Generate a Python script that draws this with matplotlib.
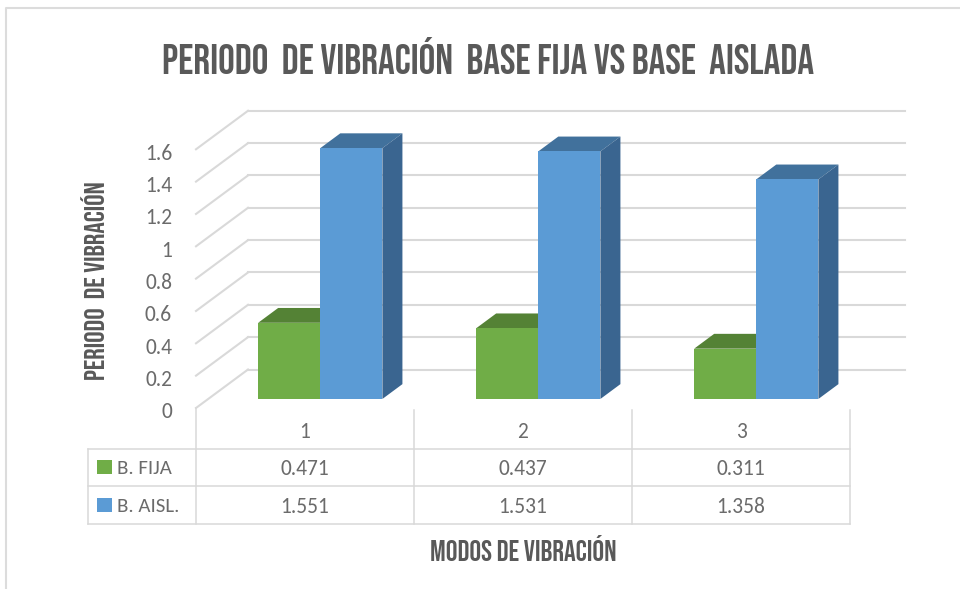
import numpy as np
import matplotlib
matplotlib.use("Agg")
import matplotlib.pyplot as plt
from matplotlib.patches import Polygon, Rectangle

modos = ["1", "2", "3"]
b_fija = [0.471, 0.437, 0.311]
b_aisl = [1.551, 1.531, 1.358]
y_ticks = [0, 0.2, 0.4, 0.6, 0.8, 1, 1.2, 1.4, 1.6]

W, H = 960, 589
FONT = ["Carlito", "Open Sans", "DejaVu Sans"]
NARROW = ["Bebas Neue", "League Gothic", "Liberation Sans", "DejaVu Sans"]
GRID = "#d9d9d9"
TXT = "#6b6b6b"
TITLE = "#595959"

# oblique 3d: depth shift of the whole box in data units
depth_x = 52 / 218.
depth_y = 38.5 / 161.7
d0, d1 = 0.235, 0.62
bar_w = 0.285
bar_off = 0.229


def shift(x, v, d):
    return (x + d * depth_x, v + d * depth_y)


def box(ax, x, v, front, top, side):
    base = d0 * depth_y
    ax.bar(x + d0 * depth_x, v, bar_w, bottom=base, color=front, align="edge", zorder=3)
    p = [shift(x, v, d0), shift(x + bar_w, v, d0), shift(x + bar_w, v, d1), shift(x, v, d1)]
    ax.add_patch(Polygon(p, closed=True, color=top, lw=0, zorder=2))
    s = [shift(x + bar_w, 0, d0), shift(x + bar_w, v, d0), shift(x + bar_w, v, d1), shift(x + bar_w, 0, d1)]
    ax.add_patch(Polygon(s, closed=True, color=side, lw=0, zorder=2))


fig = plt.figure(figsize=(W / 100., H / 100.), dpi=100, facecolor="white")

# main axes fills the figure, data scale: 218 px per category, 161.7 px per unit
ax = fig.add_axes([0, 0, 1, 1])
ax.set_xlim(-196 / 218., (W - 196) / 218.)
ax.set_ylim(-(H - 408) / 161.7, 408 / 161.7)
ax.axis("off")

n = len(modos)
for t in y_ticks:
    x0, y0 = shift(0, t, 0)
    x1, y1 = shift(0, t, 1)
    ax.plot([x0, x1], [y0, y1], color=GRID, lw=1.5, zorder=1)
    ax.plot([x1, n + depth_x + 0.014], [y1, y1], color=GRID, lw=1.5, zorder=1)
    ax.text(-24 / 218., t - 4.5 / 161.7, "%g" % t, ha="right", va="center", color=TXT, fontsize=15.5, family=FONT)

for i in range(n):
    box(ax, i + bar_off, b_fija[i], "#70ad47", "#548235", "#4c7a30")
    box(ax, i + bar_off + bar_w, b_aisl[i], "#5b9bd5", "#41719c", "#3a6590")

# overlay in pixels for frame, table and titles
ov = fig.add_axes([0, 0, 1, 1])
ov.set_xlim(0, W)
ov.set_ylim(H, 0)
ov.axis("off")
ov.patch.set_alpha(0)

ov.plot([6, 6, W], [H, 8, 8], color="#dcdcdc", lw=1.5)

cols = [196, 414, 632, 850]
rows = [449, 486, 524]
for y in rows:
    ov.plot([88, 850], [y, y], color=GRID, lw=1.1)
ov.plot([88, 88], [449, 524], color=GRID, lw=1.1)
ov.plot([196, 196], [408, 524], color=GRID, lw=1.1)
for x in cols[1:]:
    ov.plot([x, x], [410, 524], color=GRID, lw=1.1)

for i in range(n):
    cx = (cols[i] + cols[i + 1]) / 2.
    ov.text(cx, 432, modos[i], ha="center", va="center", color=TXT, fontsize=15.5, family=FONT)
    ov.text(cx, 469, "%.3f" % b_fija[i], ha="center", va="center", color=TXT, fontsize=15.5, family=FONT)
    ov.text(cx, 507, "%.3f" % b_aisl[i], ha="center", va="center", color=TXT, fontsize=15.5, family=FONT)

ov.add_patch(Rectangle((97, 460), 15, 14, color="#70ad47", lw=0))
ov.add_patch(Rectangle((97, 498), 15, 14, color="#5b9bd5", lw=0))
ov.text(117, 468, "B. FIJA", ha="left", va="center", color=TXT, fontsize=15, family=FONT)
ov.text(117, 506, "B. AISL.", ha="left", va="center", color=TXT, fontsize=15, family=FONT)

ov.text(488, 55, "PERIODO  DE VIBRACIÓN  BASE FIJA VS BASE  AISLADA", ha="center", va="center",
        color=TITLE, fontsize=30, family=NARROW)
ov.text(93, 281, "PERIODO  DE VIBRACIÓN", rotation=90, ha="center", va="center",
        color=TITLE, fontsize=20.5, family=NARROW)
ov.text(523, 548, "MODOS DE VIBRACIÓN", ha="center", va="center",
        color=TITLE, fontsize=21, family=NARROW)

fig.savefig("out.png", dpi=100)
